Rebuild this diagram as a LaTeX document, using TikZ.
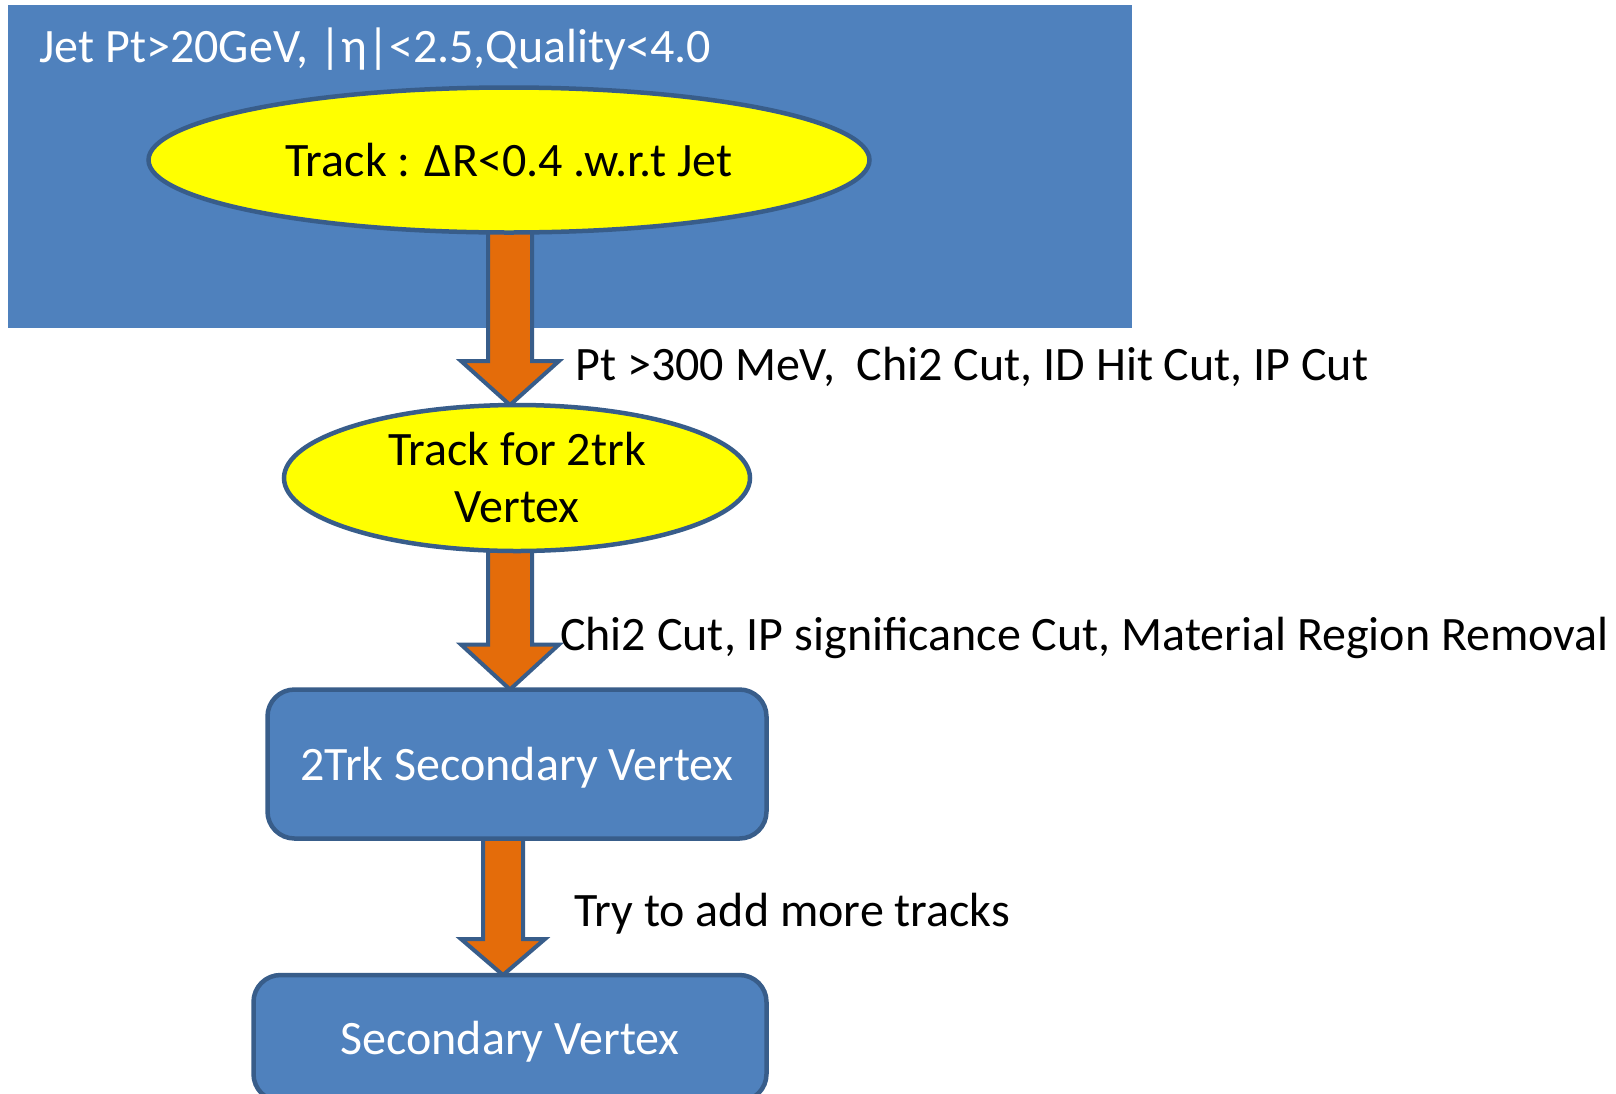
\documentclass[tikz,border=0pt]{standalone}
\usepackage{fontspec}
\setmainfont{Carlito}
\usetikzlibrary{shapes.geometric,calc}

\definecolor{boxblue}{HTML}{4F81BD}
\definecolor{edgeblue}{HTML}{385D8A}
\definecolor{flowore}{HTML}{E46C0A}
\definecolor{cutyellow}{HTML}{FFFF00}

\pgfdeclarelayer{bg}
\pgfdeclarelayer{arrows}
\pgfsetlayers{bg,arrows,main}

% Block arrow from the bottom of node #1 to the top of node #2, along x = #3
% #4 half shaft width, #5 half head width, #6 head length
\newcommand\fatarrow[6]{%
  \begin{pgfonlayer}{arrows}
    \draw[flowarrow] let \p1=(#1.south), \p2=(#2.north) in
      ({#3pt-#4pt},{\y1+6pt}) -- ({#3pt-#4pt},{\y2+#6pt}) -- ({#3pt-#5pt},{\y2+#6pt})
      -- ({#3pt},\y2)
      -- ({#3pt+#5pt},{\y2+#6pt}) -- ({#3pt+#4pt},{\y2+#6pt}) -- ({#3pt+#4pt},{\y1+6pt}) -- cycle;
  \end{pgfonlayer}}

\tikzset{
  bigfont/.style={font=\fontsize{48}{57}\selectfont},
  ellnode/.style={ellipse, draw=edgeblue, line width=4.5pt, fill=cutyellow,
    inner sep=0pt, outer sep=0pt, text=black, bigfont, align=center},
  stepbox/.style={rectangle, rounded corners=27pt, draw=edgeblue, line width=4.5pt,
    fill=boxblue, inner sep=0pt, outer sep=0pt, text=white, bigfont, text depth=0pt},
  jetbox/.style={rectangle, fill=boxblue, draw=none, inner sep=0pt, outer sep=0pt},
  cutlabel/.style={anchor=base west, inner sep=0pt, text=black, bigfont},
  flowarrow/.style={draw=edgeblue, line width=4pt, fill=flowore, line join=miter},
}

\begin{document}
\begin{tikzpicture}[x=1pt,y=-1pt]
\useasboundingbox (0,0) rectangle (1616,1093);

\begin{pgfonlayer}{bg}
  \fill[white] (0,0) rectangle (1616,1093);
  \node[jetbox, minimum width=1124pt, minimum height=323pt] (jet) at (570,166.5) {};
\end{pgfonlayer}

% jet selection label inside the large box
\node[cutlabel, text=white] (jetcut) at (39,62) {Jet Pt>20GeV, |η|<2.5,Quality<4.0};

% flow nodes
\node[ellnode, minimum width=721pt, minimum height=145pt] (e1) at (509,160) {Track : ΔR<0.4 .w.r.t Jet};
\node[ellnode, minimum width=466pt, minimum height=146pt] (e2) at (517,478) {Track for 2trk\\Vertex};
\node[stepbox, minimum width=499pt, minimum height=149pt] (b1) at (517,764) {2Trk Secondary Vertex};
\node[stepbox, minimum width=513pt, minimum height=126pt] (b2) at (510,1038) {Secondary Vertex};

% block arrows between stages
\fatarrow{e1}{e2}{510}{22}{49}{44}
\fatarrow{e2}{b1}{510}{22}{49}{45}
\fatarrow{b1}{b2}{503}{20}{42}{36}

% cut descriptions beside the arrows
\node[cutlabel] (cut1) at (575,380) {Pt >300 MeV,\ \ Chi2 Cut, ID Hit Cut, IP Cut};
\node[cutlabel] (cut2) at (560,650) {Chi2 Cut, IP significance Cut, Material Region Removal};
\node[cutlabel] (cut3) at (574,926) {Try to add more tracks};
\end{tikzpicture}
\end{document}
